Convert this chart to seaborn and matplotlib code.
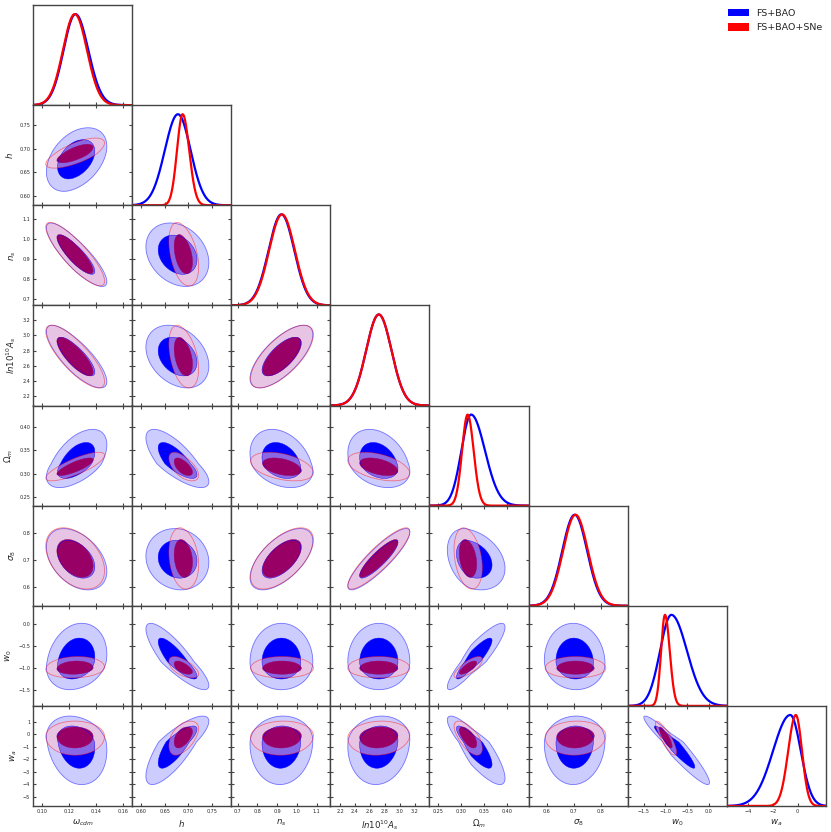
import numpy as np
import matplotlib
matplotlib.use("Agg")
import matplotlib.pyplot as plt
from matplotlib.patches import Patch
import seaborn as sns

# ---------------- data ----------------
param_labels = [r"$\omega_{cdm}$", r"$h$", r"$n_s$", r"$ln10^{10}A_s$",
                r"$\Omega_m$", r"$\sigma_8$", r"$w_0$", r"$w_a$"]
axis_ranges = [(0.093, 0.1665), (0.580, 0.792), (0.668, 1.170), (2.07, 3.40),
               (0.2315, 0.446), (0.532, 0.900), (-1.87, 0.42), (-5.75, 2.3)]
xtick_values = [[0.10, 0.12, 0.14, 0.16], [0.60, 0.65, 0.70, 0.75],
                [0.7, 0.8, 0.9, 1.0, 1.1], [2.2, 2.4, 2.6, 2.8, 3.0, 3.2],
                [0.25, 0.30, 0.35, 0.40], [0.6, 0.7, 0.8],
                [-1.5, -1.0, -0.5, 0.0], [-4, -2, 0]]
ytick_values = [[], [0.60, 0.65, 0.70, 0.75], [0.7, 0.8, 0.9, 1.0, 1.1],
                [2.2, 2.4, 2.6, 2.8, 3.0, 3.2], [0.25, 0.30, 0.35, 0.40],
                [0.6, 0.7, 0.8], [-1.5, -1.0, -0.5, 0.0],
                [-5, -4, -3, -2, -1, 0, 1]]

series_names = ["FS+BAO", "FS+BAO+SNe"]

# FS+BAO : peak and asymmetric widths of each parameter
blue_peak = [0.1245, 0.678, 0.922, 2.72, 0.3215, 0.703, -0.863, -0.60]
blue_sig_lo = [0.0088, 0.028, 0.065, 0.17, 0.021, 0.046, 0.26, 1.40]
blue_sig_hi = [0.0095, 0.027, 0.065, 0.17, 0.030, 0.046, 0.36, 0.85]
blue_corr = [
    [],
    [0.40],
    [-0.85, -0.25],
    [-0.80, -0.30, 0.70],
    [0.55, -0.75, -0.30, -0.30],
    [-0.40, -0.10, 0.60, 0.88, -0.30],
    [0.20, -0.85, 0.00, 0.00, 0.90, -0.05],
    [-0.20, 0.80, 0.05, 0.10, -0.85, 0.05, -0.95],
]

# FS+BAO+SNe
red_peak = [0.1240, 0.688, 0.925, 2.72, 0.314, 0.706, -1.01, -0.15]
red_sig_lo = [0.0088, 0.012, 0.065, 0.17, 0.012, 0.046, 0.09, 0.62]
red_sig_hi = [0.0090, 0.014, 0.065, 0.17, 0.013, 0.046, 0.11, 0.50]
red_corr = [
    [],
    [0.70],
    [-0.85, -0.40],
    [-0.80, -0.40, 0.70],
    [0.80, -0.60, -0.40, -0.45],
    [-0.40, -0.20, 0.60, 0.88, -0.30],
    [0.10, -0.60, 0.00, 0.00, 0.75, 0.00],
    [0.00, 0.50, 0.05, 0.10, -0.65, 0.05, -0.85],
]

# ---------------- style ----------------
sns.set_style("ticks")
plt.rcParams["font.family"] = ["DejaVu Sans"]
plt.rcParams["mathtext.fontset"] = "dejavusans"

R68 = 2.2789  # chi2 (2 dof) for 68%
R95 = 5.9915  # chi2 (2 dof) for 95%

styles = {
    "blue": dict(line="#0000ff", outer=(0, 0, 1, 0.2), inner="#0000ff",
                 edge=(0, 0, 1, 0.5)),
    "red": dict(line="#ff0000", outer=(1.0, 0.75, 0.8, 0.55), inner="#990066",
                edge=(1, 0, 0, 0.45)),
}
datasets = [
    ("blue", blue_peak, blue_sig_lo, blue_sig_hi, blue_corr),
    ("red", red_peak, red_sig_lo, red_sig_hi, red_corr),
]


def norm_coord(x, peak, slo, shi):
    return np.where(x < peak, (x - peak) / slo, (x - peak) / shi)


n = len(param_labels)
fig, axes = plt.subplots(n, n, figsize=(8.31, 8.32), dpi=100)
plt.subplots_adjust(left=33 / 831, right=826 / 831, top=1 - 5 / 832,
                    bottom=1 - 806 / 832, wspace=0, hspace=0)

spine_col = "#444444"
tick_fs = 3.5
label_fs = 6.2

for i in range(n):
    for j in range(n):
        ax = axes[i, j]
        if j > i:
            ax.set_visible(False)
            continue
        for s in ax.spines.values():
            s.set_color(spine_col)
            s.set_linewidth(1.0)
        ax.set_xlim(axis_ranges[j])
        ax.set_xticks(xtick_values[j])
        if i == j:
            xs = np.linspace(axis_ranges[i][0], axis_ranges[i][1], 400)
            for key, pk, slo, shi, _ in datasets:
                u = norm_coord(xs, pk[i], slo[i], shi[i])
                sns.lineplot(x=xs, y=np.exp(-0.5 * u ** 2), ax=ax,
                             color=styles[key]["line"], lw=1.6)
            ax.set_ylim(0, 1.1)
            ax.set_yticks([])
            ax.tick_params(axis="x", direction="in", bottom=True, top=False,
                           length=2.5, width=0.8, color=spine_col,
                           labelbottom=(i == n - 1), labelsize=tick_fs, pad=2)
        else:
            ax.set_ylim(axis_ranges[i])
            ax.set_yticks(ytick_values[i])
            gx = np.linspace(axis_ranges[j][0], axis_ranges[j][1], 320)
            gy = np.linspace(axis_ranges[i][0], axis_ranges[i][1], 320)
            X, Y = np.meshgrid(gx, gy)
            for key, pk, slo, shi, corr in datasets:
                st = styles[key]
                rho = corr[i][j]
                u = norm_coord(X, pk[j], slo[j], shi[j])
                v = norm_coord(Y, pk[i], slo[i], shi[i])
                chi2 = (u ** 2 - 2 * rho * u * v + v ** 2) / (1 - rho ** 2)
                ax.contourf(X, Y, chi2, levels=[-1, R95], colors=[st["outer"]],
                            antialiased=True)
                ax.contour(X, Y, chi2, levels=[R95], colors=[st["edge"]],
                           linewidths=0.6)
                ax.contourf(X, Y, chi2, levels=[-1, R68], colors=[st["inner"]],
                            antialiased=True)
                ax.contour(X, Y, chi2, levels=[R68], colors=[st["inner"]],
                           linewidths=0.3)
            ax.tick_params(axis="both", direction="in", bottom=True, top=True,
                           left=True, right=True, length=2.5, width=0.8,
                           color=spine_col, labelbottom=(i == n - 1),
                           labelleft=(j == 0), labelsize=tick_fs, pad=2)
        ax.set_xlabel("")
        ax.set_ylabel("")
        if i == n - 1:
            ax.set_xlabel(param_labels[j], fontsize=label_fs, labelpad=3)
        if j == 0 and i > 0:
            ax.set_ylabel(param_labels[i], fontsize=label_fs, labelpad=3)

handles = [Patch(facecolor=styles["blue"]["line"], edgecolor="none"),
           Patch(facecolor=styles["red"]["line"], edgecolor="none")]
fig.legend(handles, series_names, loc="upper left",
           bbox_to_anchor=(728 / 831, 1 - 9 / 832), frameon=False,
           fontsize=6.8, handlelength=2.2, handleheight=0.8,
           handletextpad=0.8, borderpad=0, borderaxespad=0, labelspacing=0.55)

fig.savefig("out.png", dpi=100)
